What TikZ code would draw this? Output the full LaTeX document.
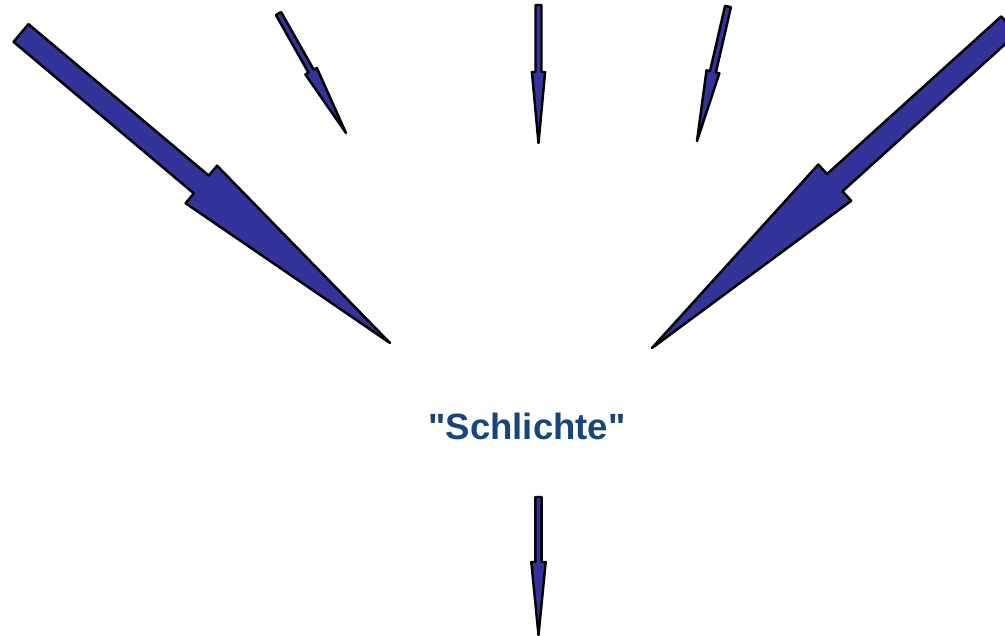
\documentclass[tikz,border=0pt]{standalone}
\usepackage{fontspec}
\setmainfont{Liberation Sans}[Ligatures=TeXOff]
\usetikzlibrary{calc}
\definecolor{arrowfill}{RGB}{51,51,153}
\definecolor{labelblue}{RGB}{23,70,122}

% block arrow: tail, tip, half shaft width, half head width, head length
\newcommand{\blockarrow}[5]{%
  \coordinate (hb) at ($(#2)!#5!(#1)$);
  \draw[arrowbody] ($(#1)!#3!90:(#2)$) -- ($(hb)!#3!90:(#2)$) -- ($(hb)!#4!90:(#2)$)
    -- (#2) -- ($(hb)!#4!-90:(#2)$) -- ($(hb)!#3!-90:(#2)$) -- ($(#1)!#3!-90:(#2)$) -- cycle;
}

\begin{document}
\begin{tikzpicture}[x=0.02cm,y=0.02cm,
    arrowbody/.style={draw=black,line width=1.4pt,fill=arrowfill,line join=round}]
    \useasboundingbox (0,0) rectangle (1005,636);
    \clip (0,0) rectangle (1005,636);

    \node[anchor=base,text=labelblue,font=\bfseries\fontsize{20.8}{25}\selectfont] (schlichte) at (527,196) {"Schlichte"};

    \coordinate (t1) at (21,603);      \coordinate (p1) at (390,293);
    \coordinate (t2) at (278.5,622.5); \coordinate (p2) at (346,503);
    \coordinate (t3) at (538.5,631);   \coordinate (p3) at (538.5,493);
    \coordinate (t4) at (728,629.5);   \coordinate (p4) at (697,495);
    \coordinate (t5) at (1009,611);    \coordinate (p5) at (652,288);
    \coordinate (t6) at (538.5,139);   \coordinate (p6) at (538.5,1);

    \blockarrow{t1}{p1}{0.232cm}{0.49cm}{4.93cm}
    \blockarrow{t2}{p2}{0.06cm}{0.132cm}{1.42cm}
    \blockarrow{t3}{p3}{0.06cm}{0.132cm}{1.42cm}
    \blockarrow{t4}{p4}{0.06cm}{0.132cm}{1.42cm}
    \blockarrow{t5}{p5}{0.232cm}{0.49cm}{4.93cm}
    \blockarrow{t6}{p6}{0.064cm}{0.144cm}{1.46cm}
\end{tikzpicture}
\end{document}
